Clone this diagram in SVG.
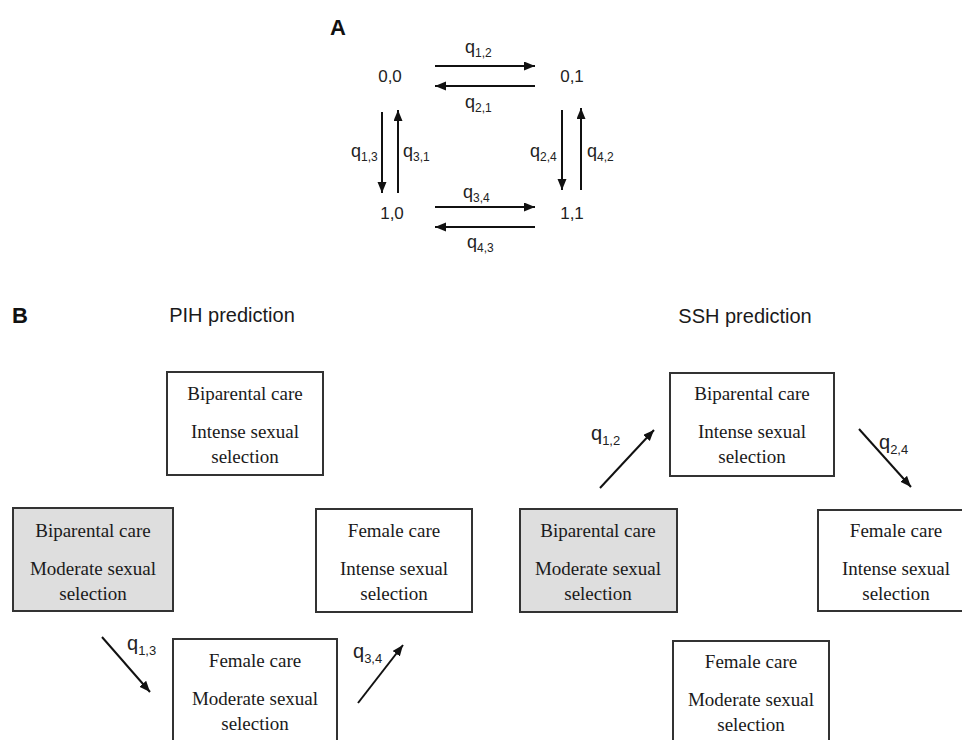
<svg xmlns="http://www.w3.org/2000/svg" width="962" height="740" viewBox="0 0 962 740">
<style>
.bg{fill:#ffffff}
.box{fill:#ffffff;stroke:#333333;stroke-width:2}
.gray{fill:#dedede}
.bt{font-family:"Liberation Serif","Times New Roman",serif;font-size:19px;fill:#1a1a1a;text-anchor:middle}
.st{font-family:"Liberation Sans",Arial,sans-serif;font-size:17px;fill:#222;text-anchor:middle}
.qa{font-family:"Liberation Sans",Arial,sans-serif;font-size:18px;fill:#222}
.qb{font-family:"Liberation Sans",Arial,sans-serif;font-size:20px;fill:#222}
.sa{font-size:12px}
.sb{font-size:13px}
.hd{font-family:"Liberation Sans",Arial,sans-serif;font-size:20px;fill:#1a1a1a;text-anchor:middle}
.lb{font-family:"Liberation Sans",Arial,sans-serif;font-size:22px;font-weight:bold;fill:#111}
.ar{stroke:#111;stroke-width:2;fill:none;marker-end:url(#ah)}
</style>
<defs>
<marker id="ah" markerUnits="userSpaceOnUse" markerWidth="12" markerHeight="10" refX="11" refY="4.5" orient="auto">
<path d="M0,0 L11,4.5 L0,9 z" fill="#111"/>
</marker>
</defs>
<rect class="bg" x="0" y="0" width="962" height="740"/>

<text class="lb" x="330" y="35">A</text>
<g id="s00"><text class="st" x="390" y="82">0,0</text></g>
<g id="s01"><text class="st" x="572" y="82">0,1</text></g>
<g id="s10"><text class="st" x="392" y="219">1,0</text></g>
<g id="s11"><text class="st" x="572" y="219">1,1</text></g>

<text class="lb" x="12" y="323">B</text>
<text class="hd" x="232" y="322">PIH prediction</text>
<text class="hd" x="745" y="323">SSH prediction</text>

<g id="pih-bi-intense">
<rect class="box" x="167" y="372" width="156" height="103"/>
<text class="bt" x="245" y="400">Biparental care</text>
<text class="bt" x="245" y="438">Intense sexual</text>
<text class="bt" x="245" y="463">selection</text>
</g>
<g id="pih-bi-moderate">
<rect class="box gray" x="13" y="508" width="160" height="103"/>
<text class="bt" x="93" y="537">Biparental care</text>
<text class="bt" x="93" y="575">Moderate sexual</text>
<text class="bt" x="93" y="600">selection</text>
</g>
<g id="pih-fe-intense">
<rect class="box" x="316" y="509" width="156" height="103"/>
<text class="bt" x="394" y="537">Female care</text>
<text class="bt" x="394" y="575">Intense sexual</text>
<text class="bt" x="394" y="600">selection</text>
</g>
<g id="pih-fe-moderate">
<rect class="box" x="173" y="639" width="164" height="120"/>
<text class="bt" x="255" y="667">Female care</text>
<text class="bt" x="255" y="705">Moderate sexual</text>
<text class="bt" x="255" y="730">selection</text>
</g>

<g id="ssh-bi-intense">
<rect class="box" x="670" y="373" width="164" height="103"/>
<text class="bt" x="752" y="400">Biparental care</text>
<text class="bt" x="752" y="438">Intense sexual</text>
<text class="bt" x="752" y="463">selection</text>
</g>
<g id="ssh-bi-moderate">
<rect class="box gray" x="520" y="509" width="157" height="103"/>
<text class="bt" x="598" y="537">Biparental care</text>
<text class="bt" x="598" y="575">Moderate sexual</text>
<text class="bt" x="598" y="600">selection</text>
</g>
<g id="ssh-fe-intense">
<rect class="box" x="818" y="510" width="170" height="101"/>
<text class="bt" x="896" y="537">Female care</text>
<text class="bt" x="896" y="575">Intense sexual</text>
<text class="bt" x="896" y="600">selection</text>
</g>
<g id="ssh-fe-moderate">
<rect class="box" x="673" y="641" width="156" height="120"/>
<text class="bt" x="751" y="668">Female care</text>
<text class="bt" x="751" y="706">Moderate sexual</text>
<text class="bt" x="751" y="731">selection</text>
</g>

<g id="connectors">
<line class="ar" x1="435" y1="66" x2="535" y2="66"/>
<line class="ar" x1="535" y1="86" x2="435" y2="86"/>
<line class="ar" x1="435" y1="207" x2="535" y2="207"/>
<line class="ar" x1="535" y1="227" x2="435" y2="227"/>
<line class="ar" x1="382" y1="112" x2="382" y2="193"/>
<line class="ar" x1="398" y1="193" x2="398" y2="110"/>
<line class="ar" x1="562" y1="110" x2="562" y2="190"/>
<line class="ar" x1="581" y1="190" x2="581" y2="108"/>
<line class="ar" x1="102" y1="637" x2="150" y2="692"/>
<line class="ar" x1="358" y1="703" x2="403" y2="645"/>
<line class="ar" x1="600" y1="488" x2="654" y2="430"/>
<line class="ar" x1="859" y1="429" x2="911" y2="487"/>

<text class="qa" x="465" y="53">q<tspan class="sa" dy="4">1,2</tspan></text>
<text class="qa" x="465" y="108">q<tspan class="sa" dy="4">2,1</tspan></text>
<text class="qa" x="351" y="157">q<tspan class="sa" dy="4">1,3</tspan></text>
<text class="qa" x="403" y="157">q<tspan class="sa" dy="4">3,1</tspan></text>
<text class="qa" x="530" y="157">q<tspan class="sa" dy="4">2,4</tspan></text>
<text class="qa" x="587" y="157">q<tspan class="sa" dy="4">4,2</tspan></text>
<text class="qa" x="463" y="198">q<tspan class="sa" dy="4">3,4</tspan></text>
<text class="qa" x="467" y="248">q<tspan class="sa" dy="4">4,3</tspan></text>

<text class="qb" x="127" y="650">q<tspan class="sb" dy="5">1,3</tspan></text>
<text class="qb" x="353" y="658">q<tspan class="sb" dy="5">3,4</tspan></text>
<text class="qb" x="591" y="440">q<tspan class="sb" dy="5">1,2</tspan></text>
<text class="qb" x="879" y="449">q<tspan class="sb" dy="5">2,4</tspan></text>
</g>
</svg>
